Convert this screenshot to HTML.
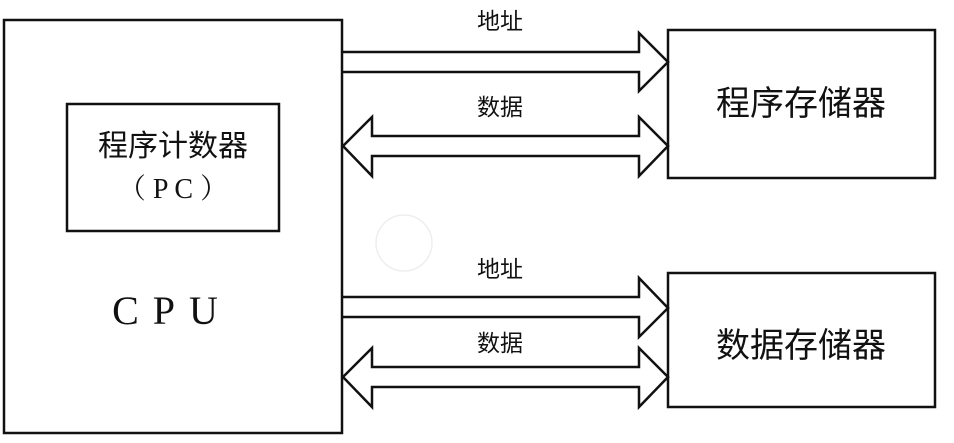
<!DOCTYPE html>
<html><head><meta charset="utf-8"><style>
html,body{margin:0;padding:0;background:#fff;}
svg{display:block;}
text{font-family:"Liberation Serif","Noto Serif CJK SC",serif;fill:#111;}
.s{font-family:"Liberation Sans","Noto Sans CJK SC",sans-serif;}
</style></head><body>
<svg width="954" height="443" viewBox="0 0 954 443" xmlns="http://www.w3.org/2000/svg">
<g fill="none" stroke="#111" stroke-width="2.5">
<rect x="4" y="20" width="338" height="413"/>
<rect x="67" y="104" width="212" height="127"/>
<rect x="668" y="30" width="267" height="148"/>
<rect x="668" y="273" width="267" height="134"/>
<!-- address arrow 1 -->
<polyline points="343,52 639,52 639,33 668,62 639,91 639,72 343,72"/>
<!-- data arrow 1 -->
<polygon points="343,146 372,117 372,136 639,136 639,117 668,146 639,176 639,156 372,156 372,176"/>
<!-- address arrow 2 -->
<polyline points="343,297 639,297 639,278 668,308 639,337 639,317 343,317"/>
<!-- data arrow 2 -->
<polygon points="343,377 372,348 372,367 639,367 639,348 668,377 639,407 639,387 372,387 372,407"/>
</g>
<circle cx="404" cy="243" r="28" fill="none" stroke="#eee" stroke-width="1.5"/>
<text x="173" y="156" font-size="30" text-anchor="middle" class="s">程序计数器</text>
<text x="173" y="198" font-size="28" text-anchor="middle">（ P C ）</text>
<text x="172" y="324" font-size="40" text-anchor="middle" letter-spacing="14">CPU</text>
<text x="801" y="115" font-size="34" text-anchor="middle" class="s">程序存储器</text>
<text x="801" y="357" font-size="34" text-anchor="middle" class="s">数据存储器</text>
<text x="500" y="29" font-size="23" text-anchor="middle" class="s">地址</text>
<text x="500" y="115" font-size="23" text-anchor="middle" class="s">数据</text>
<text x="500" y="277" font-size="23" text-anchor="middle" class="s">地址</text>
<text x="500" y="351" font-size="23" text-anchor="middle" class="s">数据</text>
</svg>
</body></html>
